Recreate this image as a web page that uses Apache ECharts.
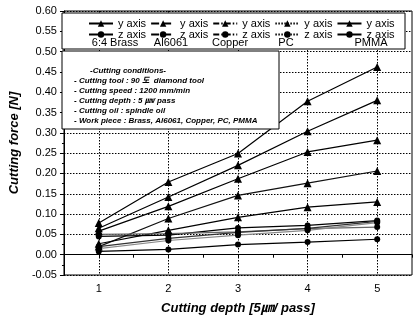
<!DOCTYPE html>
<html>
<head>
<meta charset="utf-8">
<script src="https://cdn.jsdelivr.net/npm/echarts@6/dist/echarts.min.js"></script>
<style>html,body{margin:0;padding:0;background:#fff;}#c{width:415px;height:320px;}</style>
</head>
<body>
<div id="c"></div>
<script>
// ---- data ----
const depths = [1, 2, 3, 4, 5];
const materials = ['6:4 Brass', 'Al6061', 'Copper', 'PC', 'PMMA'];
const brassY  = [0.078, 0.179, 0.249, 0.378, 0.462];
const al6061Y = [0.065, 0.142, 0.220, 0.304, 0.380];
const copperY = [0.058, 0.119, 0.187, 0.253, 0.282];
const pcY     = [0.020, 0.089, 0.146, 0.176, 0.206];
const pmmaY   = [0.027, 0.060, 0.092, 0.117, 0.130];
const brassZ  = [0.045, 0.048, 0.066, 0.072, 0.084];
const al6061Z = [0.050, 0.052, 0.056, 0.064, 0.068];
const copperZ = [0.020, 0.040, 0.055, 0.065, 0.082];
const pcZ     = [0.015, 0.035, 0.048, 0.060, 0.079];
const pmmaZ   = [0.008, 0.013, 0.025, 0.031, 0.038];
const conditionLines = [
  '- Cutting tool : 90 도  diamond tool',
  '- Cutting speed : 1200 mm/min',
  '- Cutting depth : 5 ㎛/ pass',
  '- Cutting oil : spindle oil',
  '- Work piece : Brass, Al6061, Copper, PC, PMMA'
];

const FONT = 'Arial, "Liberation Sans", "Noto Sans CJK KR", sans-serif';
const pair = v => v.map((y, i) => [depths[i], y]);

const yData = [brassY, al6061Y, copperY, pcY, pmmaY];
const zData = [brassZ, al6061Z, copperZ, pcZ, pmmaZ];
const legendTypes = ['solid', 'dashed', [6, 2, 1.5, 2], [1.5, 1.5], 'solid'];
const lineColorsY = ['#000', '#000', '#000', '#111', '#000'];
const lineColorsZ = ['#000', '#666', '#333', '#888', '#000'];

const series = [];
materials.forEach((m, i) => {
  series.push({
    name: m + ' y', type: 'line', data: pair(yData[i]),
    symbol: 'triangle', symbolSize: 8,
    itemStyle: { color: '#000' },
    lineStyle: { color: lineColorsY[i], width: 1.2 },
    z: 3
  });
});
materials.forEach((m, i) => {
  series.push({
    name: m + ' z', type: 'line', data: pair(zData[i]),
    symbol: 'circle', symbolSize: 6,
    itemStyle: { color: '#000' },
    lineStyle: { color: lineColorsZ[i], width: 1.2 },
    z: 3
  });
});

const legendBase = {
  orient: 'horizontal', left: 88, itemWidth: 24, itemHeight: 8, itemGap: 4,
  textStyle: { fontFamily: FONT, fontSize: 11, color: '#000' },
  z: 10, selectedMode: false, padding: 0
};

const chart = echarts.init(document.getElementById('c'), null, { renderer: 'canvas' });
chart.setOption({
  backgroundColor: '#fff',
  animation: false,
  grid: { left: 59, right: -1, top: 11, bottom: 45, show: true, borderColor: '#000', borderWidth: 1 },
  xAxis: {
    type: 'value', min: 0.5, max: 5.5, interval: 0.5,
    name: 'Cutting depth [5㎛/ pass]', nameLocation: 'middle', nameGap: 27,
    nameTextStyle: { fontFamily: FONT, fontSize: 13, fontWeight: 'bold', fontStyle: 'italic', color: '#000' },
    axisLine: { lineStyle: { color: '#000', width: 1 } },
    axisTick: { show: true, length: 3, lineStyle: { color: '#000' } },
    axisLabel: {
      fontFamily: FONT, fontSize: 11, color: '#000', margin: 8,
      formatter: v => (Math.abs(v - Math.round(v)) < 1e-6 && v >= 1 && v <= 5) ? String(Math.round(v)) : ''
    },
    splitLine: { show: true, lineStyle: { color: ['rgba(0,0,0,0)', '#000'], type: [1.5, 1.5], width: 1 } }
  },
  yAxis: {
    type: 'value', min: -0.05, max: 0.6, interval: 0.05,
    name: 'Cutting force [N]', nameLocation: 'middle', nameGap: 38,
    nameTextStyle: { fontFamily: FONT, fontSize: 13, fontWeight: 'bold', fontStyle: 'italic', color: '#000' },
    axisLine: { show: true, lineStyle: { color: '#000', width: 1 } },
    axisTick: { show: true, length: 4, lineStyle: { color: '#000' } },
    minorTick: { show: true, splitNumber: 2, length: 2, lineStyle: { color: '#000' } },
    axisLabel: { fontFamily: FONT, fontSize: 11, color: '#000', margin: 7, formatter: v => v.toFixed(2) },
    splitLine: { show: true, lineStyle: { color: '#000', type: [1.5, 1.5], width: 1 } }
  },
  legend: [
    Object.assign({}, legendBase, {
      top: 18,
      data: materials.map((m, i) => ({ name: m + ' y', lineStyle: { type: legendTypes[i], color: '#000' } })),
      formatter: () => 'y axis'
    }),
    Object.assign({}, legendBase, {
      top: 29,
      data: materials.map((m, i) => ({ name: m + ' z', lineStyle: { type: legendTypes[i], color: '#000' } })),
      formatter: () => 'z axis'
    })
  ],
  graphic: [
    { type: 'rect', z: 5, shape: { x: 62, y: 13, width: 343, height: 36 }, style: { fill: '#fff', stroke: '#000', lineWidth: 1 } },
    { type: 'rect', z: 5, shape: { x: 62, y: 51, width: 217, height: 78 }, style: { fill: '#fff', stroke: '#000', lineWidth: 1 } },
    ...[115, 171, 230, 286, 371].map((cx, i) => ({
      type: 'text', z: 10, x: cx, y: 43,
      style: { text: materials[i], fontFamily: FONT, fontSize: 11, fill: '#000', align: 'center', verticalAlign: 'middle' }
    })),
    { type: 'text', z: 10, x: 128, y: 71, style: { text: '-Cutting conditions-', fontFamily: FONT, fontSize: 8, fontWeight: 'bold', fontStyle: 'italic', fill: '#000', align: 'center', verticalAlign: 'middle' } },
    ...conditionLines.map((t, i) => ({
      type: 'text', z: 10, x: 74, y: 81 + i * 10,
      style: { text: t, fontFamily: FONT, fontSize: 8, fontWeight: 'bold', fontStyle: 'italic', fill: '#000', align: 'left', verticalAlign: 'middle' }
    }))
  ],
  series: series
});
</script>
</body>
</html>
